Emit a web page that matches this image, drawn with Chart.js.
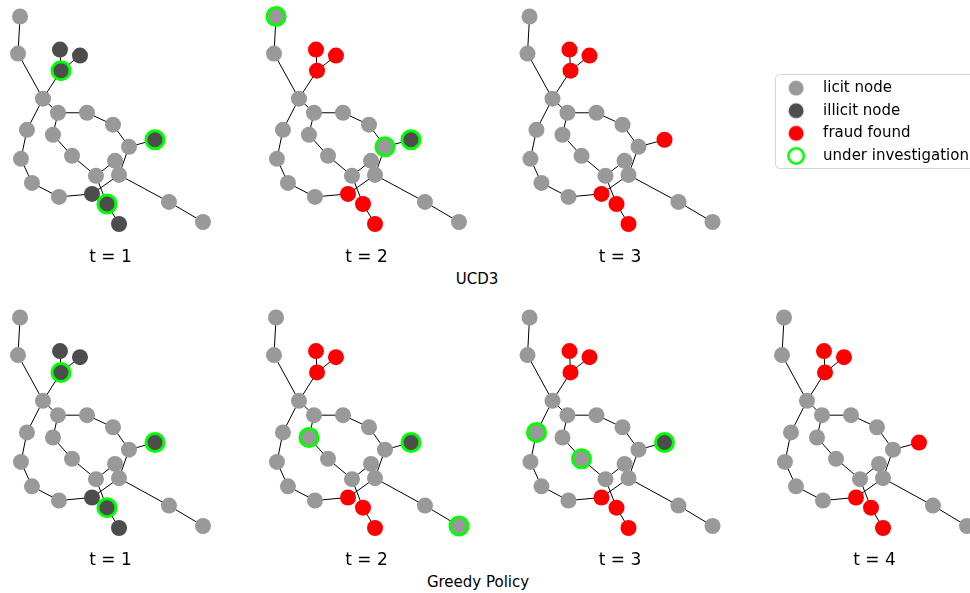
<!DOCTYPE html>
<html>
<head>
<meta charset="utf-8">
<script src="https://cdn.jsdelivr.net/npm/chart.js@4/dist/chart.umd.min.js"></script>
<style>
  html, body { margin: 0; padding: 0; background: #fff; }
  body { width: 970px; height: 593px; position: relative; overflow: hidden; font-family: "DejaVu Sans", sans-serif; }
  .panel { position: absolute; }
  .panel canvas { display: block; }
  .group { position: absolute; font-size: 15px; color: #000; transform: translate(-50%, -50%); white-space: nowrap; }
</style>
</head>
<body>
<div class="group" style="left:477px; top:279px">UCD3</div>
<div class="group" style="left:478px; top:582px">Greedy Policy</div>
<script>
// ---- graph: node ids, layout positions, edges ----
const nodeIds = ['A','B','C','D','E','F','G','H','I','J','K','L','M','N','O','P','Q','R','S','T','U','V','W','X','Y'];
const layoutX = [-0.978,-1.000,-0.546,-0.330,-0.535,-0.730,-0.568,-0.254,0.027,0.200,0.481,-0.903,-0.622,-0.968,-0.416,0.049,-0.849,-0.157,0.092,-0.557,-0.200,-0.038,0.092,0.632,1.000];
const layoutY = [1.000,0.643,0.681,0.623,0.478,0.208,0.072,0.072,-0.043,-0.256,-0.188,-0.092,-0.140,-0.372,-0.343,-0.391,-0.604,-0.536,-0.527,-0.739,-0.710,-0.807,-1.000,-0.787,-0.981];
const edges = [
  ['A','B'],['B','F'],['F','E'],['E','C'],['E','D'],['F','G'],['F','L'],
  ['L','N'],['N','Q'],['Q','T'],['T','U'],['G','H'],['H','I'],['I','J'],
  ['J','K'],['G','M'],['M','O'],['O','R'],['R','P'],['R','V'],['V','W'],
  ['U','S'],['J','S'],['S','X'],['X','Y']
];
const illicitNodes = ['C','D','E','K','U','V','W'];

// ---- investigation steps ----
const stepLabels = ['t = 1','t = 2','t = 3','t = 4'];
const ucd3Found = [
  [],
  ['C','D','E','U','V','W'],
  ['C','D','E','K','U','V','W']
];
const ucd3Investigated = [
  ['E','K','V'],
  ['A','J','K'],
  []
];
const greedyFound = [
  [],
  ['C','D','E','U','V','W'],
  ['C','D','E','U','V','W'],
  ['C','D','E','K','U','V','W']
];
const greedyInvestigated = [
  ['E','K','V'],
  ['M','K','Y'],
  ['L','O','K'],
  []
];

// ---- legend ----
const legendLabels = ['licit node','illicit node','fraud found','under investigation'];

// ---- styling ----
const LICIT = '#999999';
const ILLICIT = '#4d4d4d';
const FRAUD = '#ff0000';
const RING = '#00ff00';
const EDGE = '#000000';
const FONT = '"DejaVu Sans", sans-serif';

// panel placement (page px of each plotting area)
const columnLeft = [18, 274, 527.5, 782];
const rowGeometry = [
  { areaTop: 16.5, areaH: 207.5, labelGap: 34 },
  { areaTop: 317.5, areaH: 210.5, labelGap: 33 }
];
const AREA_W = 185;
const PAD = 12;
const TITLE_SIZE = 17;
const TITLE_LH = TITLE_SIZE * 1.2;

function pointOf(id) {
  const i = nodeIds.indexOf(id);
  return { x: layoutX[i], y: layoutY[i] };
}

function fillOf(id, found) {
  if (found.includes(id)) return FRAUD;
  if (illicitNodes.includes(id)) return ILLICIT;
  return LICIT;
}

function makePanel(row, col, found, investigated, label) {
  const areaLeft = columnLeft[col];
  const g = rowGeometry[row];
  const cLeft = Math.floor(areaLeft - PAD);
  const cTop = Math.floor(g.areaTop - PAD);
  const cRight = Math.ceil(areaLeft + AREA_W + PAD);
  const titlePadTop = g.labelGap - TITLE_LH / 2;
  const areaBottom = g.areaTop + g.areaH;
  const cBottom = Math.ceil(areaBottom + titlePadTop + TITLE_LH + 2);
  const titlePadBottom = cBottom - areaBottom - titlePadTop - TITLE_LH;

  const box = document.createElement('div');
  box.className = 'panel';
  box.style.left = cLeft + 'px';
  box.style.top = cTop + 'px';
  const canvas = document.createElement('canvas');
  canvas.width = cRight - cLeft;
  canvas.height = cBottom - cTop;
  box.appendChild(canvas);
  document.body.appendChild(box);

  const nodeDataset = {
    label: 'nodes',
    data: nodeIds.map(pointOf),
    order: 0,
    clip: false,
    pointStyle: 'circle',
    pointRadius: nodeIds.map(id => investigated.includes(id) ? 9 : 8),
    pointBackgroundColor: nodeIds.map(id => fillOf(id, found)),
    pointBorderColor: nodeIds.map(id => investigated.includes(id) ? RING : fillOf(id, found)),
    pointBorderWidth: nodeIds.map(id => investigated.includes(id) ? 3 : 0)
  };
  const edgeDatasets = edges.map(([a, b]) => ({
    label: 'edge',
    data: [pointOf(a), pointOf(b)],
    showLine: true,
    borderColor: EDGE,
    borderWidth: 1,
    pointRadius: 0,
    order: 1,
    clip: false
  }));

  new Chart(canvas, {
    type: 'scatter',
    data: { datasets: [nodeDataset, ...edgeDatasets] },
    options: {
      responsive: false,
      animation: false,
      events: [],
      devicePixelRatio: 1,
      layout: {
        padding: {
          left: areaLeft - cLeft,
          right: cRight - areaLeft - AREA_W,
          top: g.areaTop - cTop,
          bottom: 0
        }
      },
      scales: {
        x: { type: 'linear', min: -1, max: 1, display: false },
        y: { type: 'linear', min: -1, max: 1, display: false }
      },
      plugins: {
        legend: { display: false },
        tooltip: { enabled: false },
        title: {
          display: true,
          text: label,
          position: 'bottom',
          color: '#000',
          font: { family: FONT, size: TITLE_SIZE, weight: 'normal', lineHeight: 1.2 },
          padding: { top: titlePadTop, bottom: titlePadBottom }
        }
      }
    }
  });
}

// UCD3 row
ucd3Found.forEach((found, t) => makePanel(0, t, found, ucd3Investigated[t], stepLabels[t]));
// Greedy policy row
greedyFound.forEach((found, t) => makePanel(1, t, found, greedyInvestigated[t], stepLabels[t]));

// ---- legend chart ----
function markerImage(fill, stroke, r, lw) {
  const c = document.createElement('canvas');
  c.width = 24; c.height = 24;
  const ctx = c.getContext('2d');
  ctx.beginPath();
  ctx.arc(12, 12, r, 0, Math.PI * 2);
  if (fill) { ctx.fillStyle = fill; ctx.fill(); }
  if (stroke) { ctx.lineWidth = lw; ctx.strokeStyle = stroke; ctx.stroke(); }
  return c;
}
const legendMarkers = [
  markerImage(LICIT, null, 7.5, 0),
  markerImage(ILLICIT, null, 7.5, 0),
  markerImage(FRAUD, null, 7.5, 0),
  markerImage('#ffffff', RING, 7.7, 2.6)
];

const legendFrame = {
  id: 'legendFrame',
  beforeDraw(chart) {
    const ctx = chart.ctx;
    ctx.save();
    ctx.beginPath();
    ctx.roundRect(6.5, 1.5, 320, 94, 4);
    ctx.fillStyle = '#ffffff';
    ctx.fill();
    ctx.strokeStyle = '#d4d4d4';
    ctx.lineWidth = 1;
    ctx.stroke();
    ctx.restore();
  }
};

(function makeLegend() {
  const box = document.createElement('div');
  box.className = 'panel';
  box.style.left = '769px';
  box.style.top = '73px';
  const canvas = document.createElement('canvas');
  canvas.width = 420;
  canvas.height = 104;
  box.appendChild(canvas);
  document.body.appendChild(box);

  new Chart(canvas, {
    type: 'scatter',
    data: { datasets: [] },
    plugins: [legendFrame],
    options: {
      responsive: false,
      animation: false,
      events: [],
      devicePixelRatio: 1,
      layout: { padding: 0 },
      scales: {
        x: { display: false },
        y: { display: false }
      },
      plugins: {
        tooltip: { enabled: false },
        legend: {
          display: true,
          position: 'left',
          align: 'start',
          labels: {
            usePointStyle: true,
            pointStyleWidth: 39,
            boxHeight: 15,
            padding: 7.6,
            color: '#000',
            font: { family: FONT, size: 15 },
            generateLabels: () => legendLabels.map((text, i) => ({
              text,
              pointStyle: legendMarkers[i],
              fillStyle: '#ffffff',
              strokeStyle: '#ffffff',
              lineWidth: 0,
              hidden: false,
              index: i,
              fontColor: '#000'
            }))
          }
        }
      }
    }
  });
})();
</script>
</body>
</html>
